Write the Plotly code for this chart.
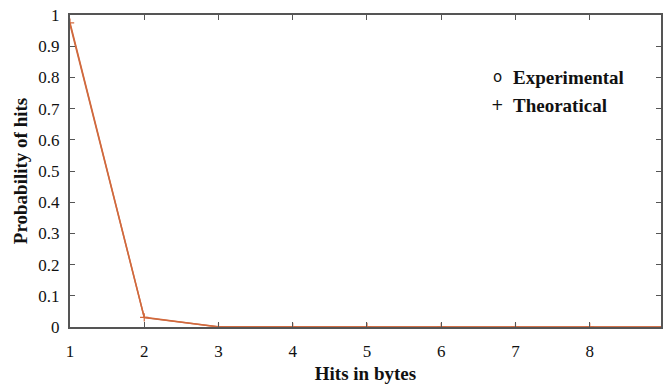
import plotly.graph_objects as go

hits = [1, 2, 3, 4, 5, 6, 7, 8, 9]
experimental = [0.97, 0.03, 0.0005, 0.0, 0.0, 0.0, 0.0, 0.0, 0.0]
theoretical = [0.975, 0.031, 0.0004, 0.0, 0.0, 0.0, 0.0, 0.0, 0.0]
x_ticks = [1, 2, 3, 4, 5, 6, 7, 8, 9]
y_ticks = [0, 0.1, 0.2, 0.3, 0.4, 0.5, 0.6, 0.7, 0.8, 0.9, 1]
y_tick_text = ["0", "0.1", "0.2", "0.3", "0.4", "0.5", "0.6", "0.7", "0.8", "0.9", "1"]

fig = go.Figure()
fig.add_trace(go.Scatter(x=hits, y=experimental, mode="lines", name="Experimental",
                         line=dict(color="#c8704e", width=1.5), showlegend=False))
fig.add_trace(go.Scatter(x=hits, y=theoretical, mode="lines+markers", name="Theoratical",
                         line=dict(color="#d2693c", width=1.5),
                         marker=dict(symbol="cross-thin", size=6, line=dict(color="#d2693c", width=1.2)),
                         showlegend=False))

font_family = "Liberation Serif"
axis_common = dict(showline=True, linecolor="#555555", linewidth=2, mirror="ticks",
                   ticks="inside", ticklen=5, tickcolor="#555555", tickwidth=1.2,
                   showgrid=False, zeroline=False,
                   tickfont=dict(family=font_family, size=17, color="#111111"))

fig.update_xaxes(range=[1, 8.96], tickvals=x_ticks, ticktext=[str(t) for t in x_ticks],
                 ticklabelstandoff=8,
                 title=dict(text="<b>Hits in bytes</b>", font=dict(family=font_family, size=19, color="#111"),
                            standoff=7),
                 **axis_common)
fig.update_yaxes(range=[0, 1], tickvals=y_ticks, ticktext=y_tick_text,
                 ticklabelstandoff=5,
                 title=dict(text="<b>Probability of hits</b>", font=dict(family=font_family, size=19, color="#111"),
                            standoff=6),
                 **axis_common)

# legend drawn as text, like the original
legend_items = [("o", "Experimental", 0.80), ("+", "Theoratical", 0.71)]
for sym, label, yy in legend_items:
    fig.add_annotation(x=0.724, y=yy, xref="paper", yref="paper", text=sym, showarrow=False,
                       xanchor="center", yanchor="middle",
                       font=dict(family="DejaVu Sans", size=15, color="#111"))
    fig.add_annotation(x=0.747, y=yy, xref="paper", yref="paper", text="<b>%s</b>" % label, showarrow=False,
                       xanchor="left", yanchor="middle",
                       font=dict(family=font_family, size=19, color="#111"))

fig.update_layout(width=663, height=384, margin=dict(l=70, r=0, t=15, b=57),
                  plot_bgcolor="white", paper_bgcolor="white", showlegend=False)

fig.write_html("out.html")
